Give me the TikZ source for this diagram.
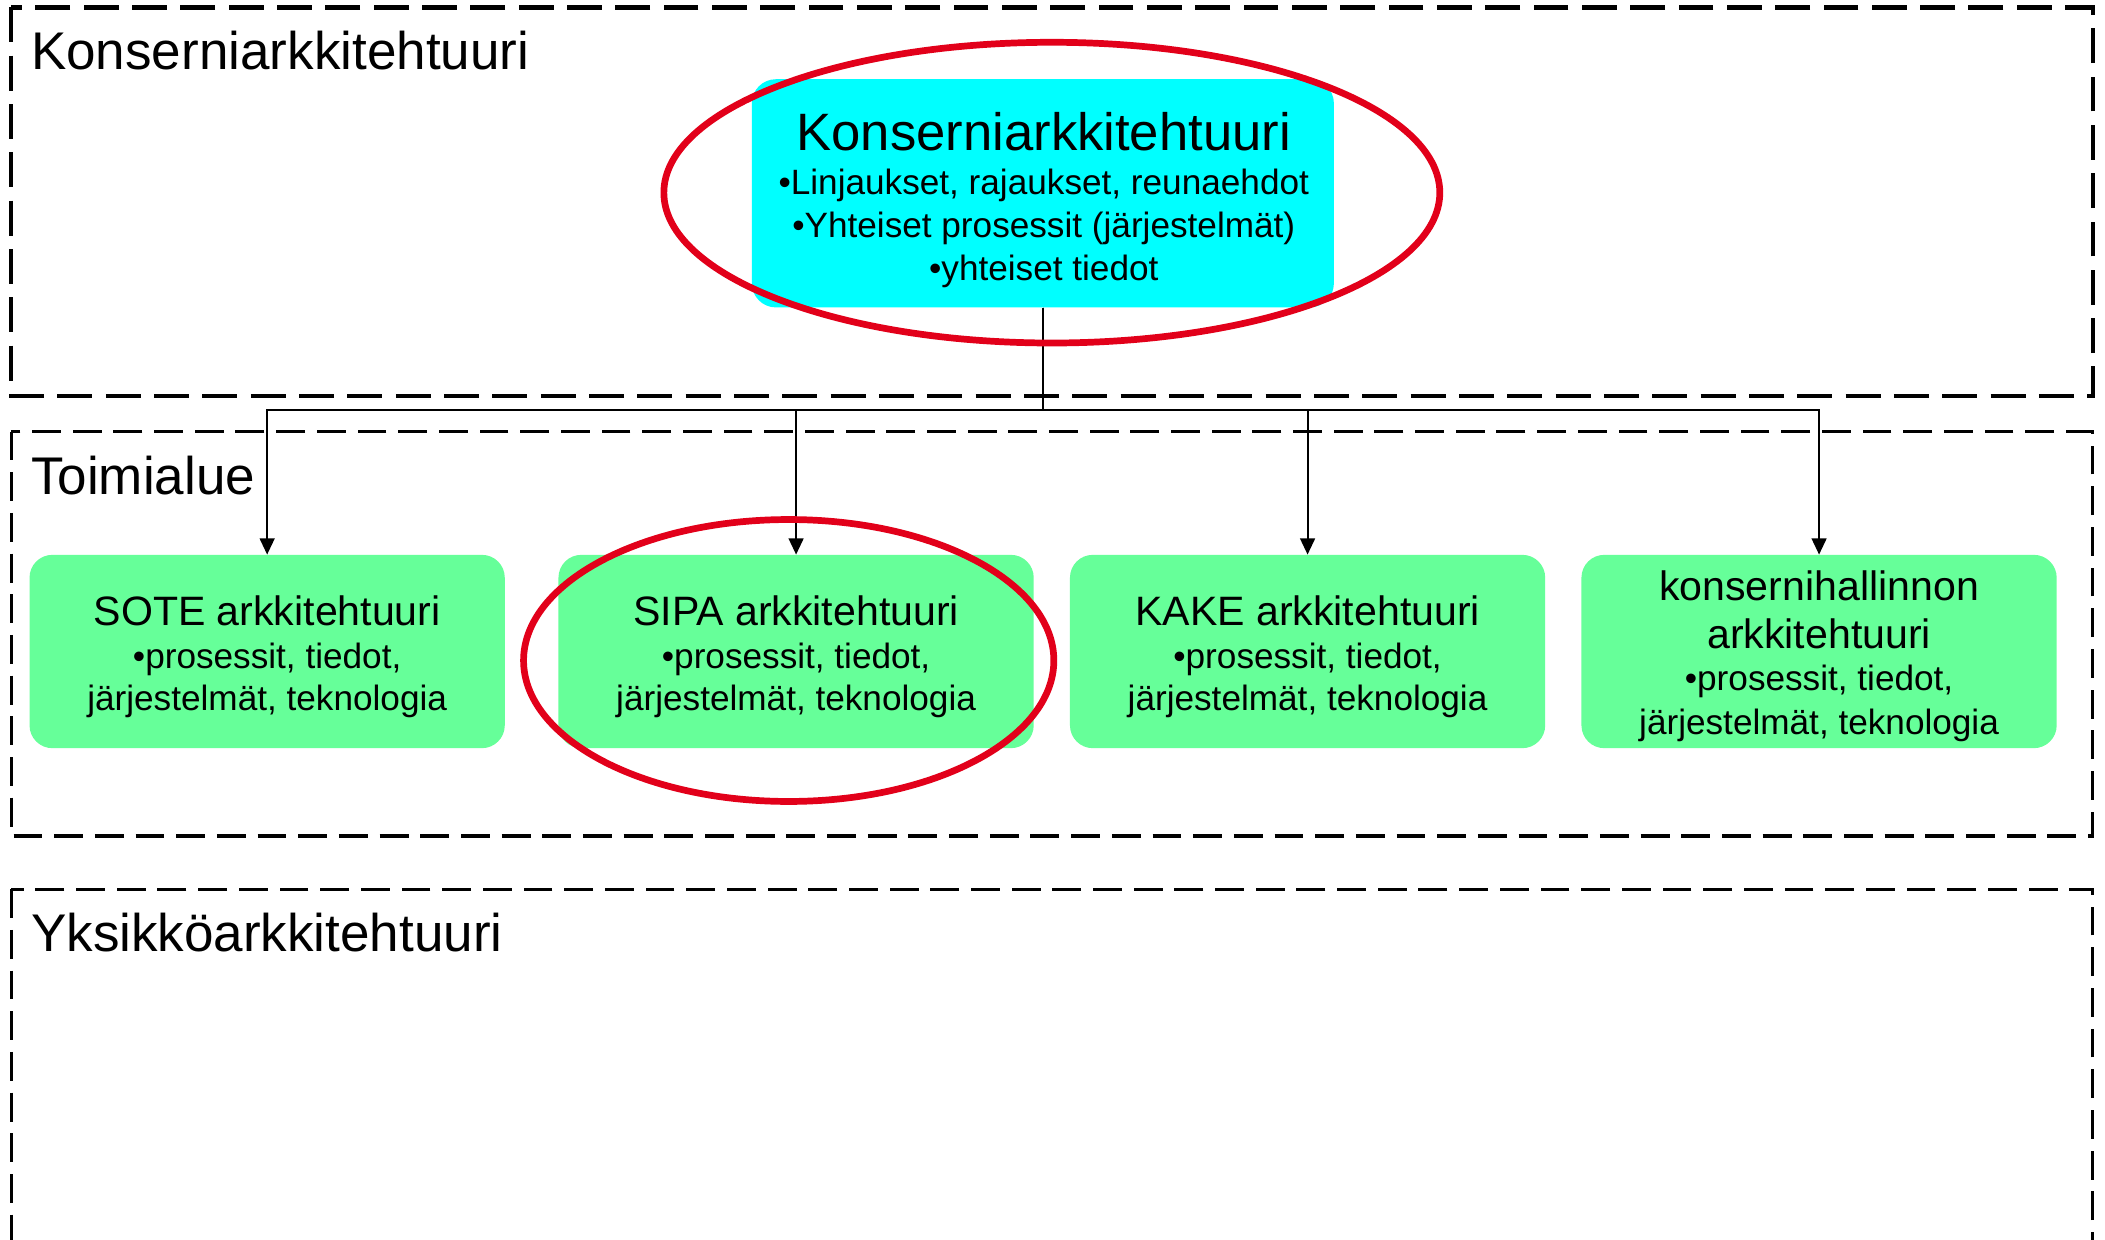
\documentclass[tikz,border=0pt]{standalone}
\usepackage{fontspec}
\setmainfont{Liberation Sans}
\usetikzlibrary{arrows.meta,shapes.geometric}
\definecolor{hlred}{RGB}{226,0,26}
\definecolor{boxcyan}{RGB}{0,255,255}
\definecolor{boxgreen}{RGB}{102,255,153}
\begin{document}
\begin{tikzpicture}[x=1pt,y=-1pt,
  zoneA/.style={line width=3.2pt, dash pattern=on 26pt off 10pt},
  zoneB/.style={line width=2.4pt, dash pattern=on 21.5pt off 8.8pt},
  zonetitle/.style={anchor=base west, inner sep=0pt, font=\fontsize{39.5}{45}\selectfont},
  cyanbox/.style={fill=boxcyan, rounded corners=18pt, minimum width=433.6pt, minimum height=170pt, inner sep=0pt},
  greenbox/.style={fill=boxgreen, rounded corners=17pt, minimum width=354pt, minimum height=144pt, inner sep=0pt},
  boxtext/.style={align=center, inner sep=0pt, font=\fontsize{26.2}{31.5}\selectfont},
  hl/.style={draw=hlred, line width=5pt, ellipse, inner sep=0pt},
  conn/.style={line width=1.4pt, -{Triangle[width=11pt,length=12pt]}},
]
\useasboundingbox (0,0) rectangle (1568,923);
\clip (0,0) rectangle (1568,923);
\fill[white] (0,0) rectangle (1568,923);

% zones
\draw[zoneA] (8.3,5.5) rectangle (1558.8,295);
\draw[zoneB] (8.3,321.5) rectangle (1558.8,622.7);
\draw[zoneB] (8.3,662.4) rectangle (1558.8,980);
\node[zonetitle] (t1) at (23,52) {Konserniarkkitehtuuri};
\node[zonetitle] (t2) at (23,368.5) {Toimialue};
\node[zonetitle] (t3) at (23,709) {Yksikköarkkitehtuuri};

% boxes
\node[cyanbox] (konserni) at (776.8,144) {};
\node[boxtext] (konserniT) at (777.5,149) {{\fontsize{39.2}{40}\selectfont Konserniarkkitehtuuri}\\[1.6pt]
  •Linjaukset, rajaukset, reunaehdot\\
  •Yhteiset prosessit (järjestelmät)\\[0.8pt]
  •yhteiset tiedot};

\node[greenbox] (sote) at (199,485.3) {};
\node[greenbox] (sipa) at (593,485.3) {};
\node[greenbox] (kake) at (974,485.3) {};
\node[greenbox] (konsh) at (1355,485.3) {};

\node[boxtext] (soteT) at (199,489.2) {{\fontsize{30.6}{32}\selectfont SOTE arkkitehtuuri}\\[0.6pt]
  •prosessit, tiedot,\\ järjestelmät, teknologia};
\node[boxtext] (sipaT) at (593,489.2) {{\fontsize{30.6}{32}\selectfont SIPA arkkitehtuuri}\\[0.6pt]
  •prosessit, tiedot,\\ järjestelmät, teknologia};
\node[boxtext] (kakeT) at (974,489.2) {{\fontsize{30.6}{32}\selectfont KAKE arkkitehtuuri}\\[0.6pt]
  •prosessit, tiedot,\\ järjestelmät, teknologia};
\node[boxtext] (konshT) at (1355,488.6) {{\fontsize{30.6}{32}\selectfont konsernihallinnon}\\[4.5pt]
  {\fontsize{30.6}{32}\selectfont arkkitehtuuri}\\
  •prosessit, tiedot,\\[0.7pt] järjestelmät, teknologia};

% connectors
\coordinate (bus) at (776.8,305.4);
\draw[conn] (konserni.south) -- (konserni.south |- bus) -| (sote.north);
\draw[conn] (konserni.south) -- (konserni.south |- bus) -| (sipa.north);
\draw[conn] (konserni.south) -- (konserni.south |- bus) -| (kake.north);
\draw[conn] (konserni.south) -- (konserni.south |- bus) -| (konsh.north);

% highlight ellipses
\node[hl, minimum width=578pt, minimum height=224pt] (hl1) at (783.5,143.5) {};
\node[hl, minimum width=395pt, minimum height=210pt] (hl2) at (587.5,492) {};
\end{tikzpicture}
\end{document}
